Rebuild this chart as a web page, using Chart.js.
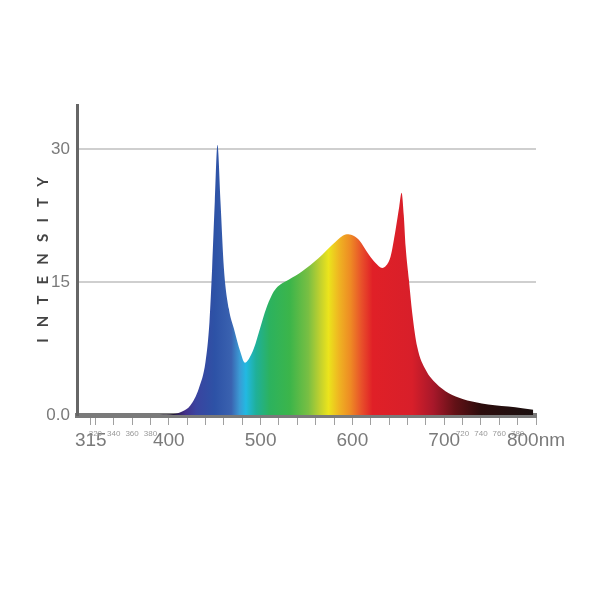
<!DOCTYPE html>
<html>
<head>
<meta charset="utf-8">
<script src="https://cdn.jsdelivr.net/npm/chart.js@4.4.1/dist/chart.umd.min.js"></script>
<style>
  html, body { margin: 0; padding: 0; background: #fff; }
  #wrap { width: 600px; height: 600px; }
</style>
</head>
<body>
<div id="wrap"><canvas id="spectrumChart"></canvas></div>
<script>
// wavelength (nm) and relative intensity
const wavelengths = [300, 390, 405, 414.5, 423.6, 432.7, 440, 444.3, 447.2, 450.1, 453, 456.3, 460, 465.4, 470.8, 478, 482.8, 487, 492.6, 500, 506, 512, 517, 524, 531, 545, 563, 582, 594, 600, 607, 618, 625, 632.5, 637, 641.6, 647, 651, 653.6, 656, 658, 661.6, 665.2, 670.6, 679.8, 690.7, 705, 720, 741, 755, 770, 785, 797];
const intensity = [0, 0, 0.1, 0.4, 1.1, 3.0, 6.0, 10.5, 16.6, 24.1, 30.5, 24.1, 16.6, 12, 9.8, 7.1, 5.9, 6.3, 7.5, 10, 12, 13.5, 14.3, 14.9, 15.3, 16.2, 17.7, 19.6, 20.4, 20.3, 19.8, 18.1, 17.2, 16.6, 16.9, 17.9, 20.9, 23.5, 25.1, 22.5, 19, 15.2, 11.5, 7.7, 5.1, 3.6, 2.45, 1.8, 1.3, 1.1, 0.95, 0.75, 0.6];

const xTickValues = [315, 320, 340, 360, 380, 400, 420, 440, 460, 480, 500, 520, 540, 560, 580, 600, 620, 640, 660, 680, 700, 720, 740, 760, 780, 800];
const xTickLabels = {315: '315', 320: '320', 340: '340', 360: '360', 380: '380', 400: '400', 500: '500', 600: '600', 700: '700', 720: '720', 740: '740', 760: '760', 780: '780', 800: '800nm'};
const bigLabels = [315, 400, 500, 600, 700, 800];
const yTickValues = [0, 15, 30];
const yTickLabels = {0: '0.0', 15: '15', 30: '30'};

// spectrum colours along the x axis
const spectrumStops = [
    [405, '#24183a'], [418, '#43308a'], [430, '#3a44a0'], [450, '#2d52a6'],
    [468, '#3a62b0'], [477, '#3b9ad4'], [484, '#22b9e2'], [495, '#1fb09a'],
    [510, '#2cb25e'], [532, '#3cb54a'], [552, '#79bf43'], [565, '#c2d12e'],
    [574, '#ebe41c'], [586, '#efb222'], [598, '#ee8a24'], [610, '#e8502a'],
    [622, '#e02027'], [665, '#d81f2a'], [688, '#a8182a'], [712, '#621116'],
    [740, '#2c0c0c'], [800, '#1a1010']
];

const labelFont = '"Liberation Sans", Arial, sans-serif';

function spectrumFill(context) {
    const chart = context.chart;
    const area = chart.chartArea;
    if (!area) return '#3cb54a';
    const xs = chart.scales.x;
    const g = chart.ctx.createLinearGradient(area.left, 0, area.right, 0);
    spectrumStops.forEach(([nm, c]) => {
        let t = (xs.getPixelForValue(nm) - area.left) / (area.right - area.left);
        g.addColorStop(Math.min(1, Math.max(0, t)), c);
    });
    return g;
}

const ctx = document.getElementById('spectrumChart').getContext('2d');
new Chart(ctx, {
    type: 'line',
    data: {
        datasets: [{
            label: 'Intensity',
            data: wavelengths.map((w, i) => ({ x: w, y: intensity[i] })),
            backgroundColor: spectrumFill,
            borderWidth: 0,
            pointRadius: 0,
            fill: 'origin',
            cubicInterpolationMode: 'monotone'
        }]
    },
    options: {
        responsive: true,
        maintainAspectRatio: false,
        animation: false,
        layout: { padding: { left: 0, right: 64, top: 105, bottom: 140 } },
        plugins: {
            legend: { display: false },
            tooltip: { enabled: false }
        },
        scales: {
            x: {
                type: 'linear',
                min: 300,
                max: 800,
                afterFit: s => { s.height = 45; },
                afterBuildTicks: s => { s.ticks = xTickValues.map(v => ({ value: v })); },
                border: { display: true, color: '#7a7a7a', width: 5 },
                grid: { drawOnChartArea: false, tickLength: 10, color: '#a0a0a0', lineWidth: 1 },
                ticks: {
                    autoSkip: false,
                    maxRotation: 0,
                    padding: 4,
                    callback: v => xTickLabels[v] || '',
                    color: c => bigLabels.includes(c.tick && c.tick.value) ? '#7a7a7a' : '#999',
                    font: c => bigLabels.includes(c.tick && c.tick.value)
                        ? { family: labelFont, size: 19 }
                        : { family: labelFont, size: 8 }
                }
            },
            y: {
                min: 0,
                max: 35,
                afterFit: s => { s.width = 77; },
                afterBuildTicks: s => { s.ticks = yTickValues.map(v => ({ value: v })); },
                border: { display: true, color: '#666', width: 3 },
                grid: {
                    drawTicks: false,
                    color: c => c.tick && c.tick.value === 0 ? 'rgba(0,0,0,0)' : '#cfcfcf',
                    lineWidth: 2
                },
                ticks: {
                    padding: 7,
                    color: '#7a7a7a',
                    font: { family: labelFont, size: 17 },
                    callback: v => yTickLabels[v] || ''
                },
                title: {
                    display: true,
                    text: 'I \u2002N \u2002T \u2002E \u2002N \u2002S \u2002I \u2002T \u2002Y',
                    color: '#444',
                    font: { family: 'Lato, "Open Sans", sans-serif', size: 15, weight: '700' },
                    padding: { top: 34, bottom: 0 }
                }
            }
        }
    }
});
</script>
</body>
</html>
